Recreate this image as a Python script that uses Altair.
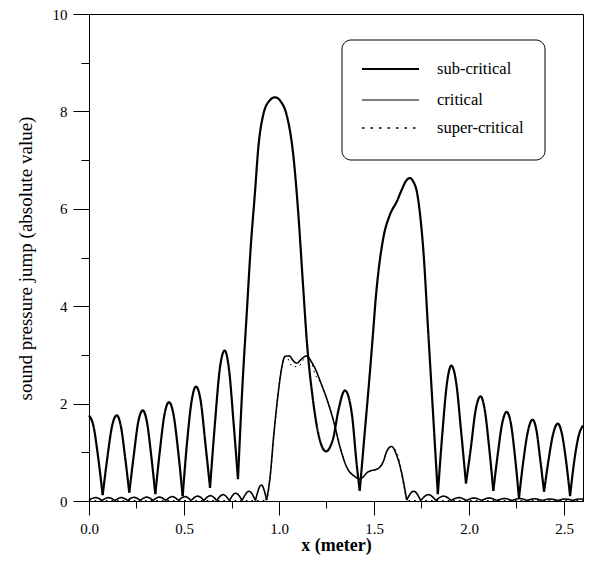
import altair as alt
import pandas as pd

SERIES = ["sub-critical", "critical", "super-critical"]

# sub-critical: arches between cusps (x in metre, |p| jump)
SUB_SEGMENTS = [
    [(0.000, 1.76), (0.024, 1.53), (0.048, 0.90), (0.072, 0.12)],
    [(0.072, 0.12), (0.097, 0.90), (0.121, 1.53), (0.146, 1.76), (0.168, 1.53), (0.190, 0.90), (0.212, 0.17)],
    [(0.212, 0.17), (0.236, 0.95), (0.259, 1.62), (0.283, 1.86), (0.305, 1.62), (0.327, 0.95), (0.349, 0.14)],
    [(0.349, 0.14), (0.373, 1.03), (0.397, 1.77), (0.421, 2.03), (0.445, 1.77), (0.469, 1.03), (0.493, 0.10)],
    [(0.493, 0.10), (0.516, 1.20), (0.540, 2.05), (0.563, 2.35), (0.588, 2.05), (0.612, 1.20), (0.637, 0.27)],
    [(0.637, 0.27), (0.663, 1.60), (0.688, 2.70), (0.714, 3.09), (0.737, 2.70), (0.761, 1.60), (0.784, 0.45)],
    [(0.784, 0.45), (0.809, 2.47), (0.830, 3.84), (0.851, 5.20), (0.874, 6.36), (0.891, 7.25), (0.917, 7.93),
     (0.950, 8.22), (0.979, 8.29), (1.010, 8.20), (1.040, 7.93), (1.075, 7.11), (1.102, 5.88), (1.125, 4.52),
     (1.149, 3.16), (1.177, 2.13), (1.207, 1.38), (1.247, 1.02), (1.286, 1.30), (1.312, 1.85), (1.347, 2.27),
     (1.383, 1.80), (1.409, 0.75), (1.425, 0.21)],
    [(1.425, 0.21), (1.450, 1.35), (1.470, 2.25), (1.496, 3.50), (1.510, 4.20), (1.523, 4.70), (1.549, 5.40),
     (1.584, 5.88), (1.620, 6.15), (1.646, 6.39), (1.668, 6.57), (1.689, 6.63), (1.708, 6.55), (1.725, 6.36),
     (1.742, 5.90), (1.760, 5.13), (1.786, 3.43), (1.812, 1.72), (1.836, 0.14)],
    [(1.836, 0.14), (1.860, 1.40), (1.884, 2.42), (1.907, 2.78), (1.933, 2.42), (1.958, 1.45), (1.984, 0.36)],
    [(1.984, 0.36), (2.010, 1.10), (2.035, 1.87), (2.061, 2.15), (2.083, 1.87), (2.106, 1.10), (2.128, 0.21)],
    [(2.128, 0.21), (2.151, 0.95), (2.175, 1.60), (2.198, 1.83), (2.220, 1.60), (2.241, 0.95), (2.263, 0.06)],
    [(2.263, 0.06), (2.287, 0.85), (2.311, 1.45), (2.335, 1.67), (2.355, 1.45), (2.375, 0.85), (2.395, 0.19)],
    [(2.395, 0.19), (2.419, 0.85), (2.443, 1.38), (2.467, 1.59), (2.489, 1.38), (2.510, 0.85), (2.532, 0.10)],
    [(2.532, 0.10), (2.555, 0.85), (2.578, 1.35), (2.600, 1.55)],
]

# critical: small arches before the step, main hump, small arches after
CRIT_SEGMENTS = [
    [(0.000, 0.02), (0.035, 0.07), (0.069, 0.01)],
    [(0.069, 0.01), (0.102, 0.07), (0.136, 0.01)],
    [(0.136, 0.01), (0.170, 0.07), (0.203, 0.01)],
    [(0.203, 0.01), (0.237, 0.075), (0.270, 0.01)],
    [(0.270, 0.01), (0.304, 0.08), (0.337, 0.01)],
    [(0.337, 0.01), (0.371, 0.08), (0.404, 0.01)],
    [(0.404, 0.01), (0.438, 0.09), (0.471, 0.01)],
    [(0.471, 0.01), (0.505, 0.09), (0.538, 0.01)],
    [(0.538, 0.01), (0.572, 0.10), (0.605, 0.01)],
    [(0.605, 0.01), (0.639, 0.11), (0.672, 0.01)],
    [(0.672, 0.01), (0.706, 0.13), (0.739, 0.01)],
    [(0.739, 0.01), (0.772, 0.16), (0.806, 0.01)],
    [(0.806, 0.01), (0.842, 0.20), (0.876, 0.01)],
    [(0.876, 0.01), (0.907, 0.33), (0.935, 0.02)],
    [(0.935, 0.02), (0.956, 0.60), (0.970, 1.25), (0.988, 1.95), (1.002, 2.41), (1.015, 2.75), (1.032, 2.97),
     (1.054, 2.98), (1.075, 2.88), (1.093, 2.83), (1.120, 2.92), (1.146, 2.98), (1.172, 2.85), (1.195, 2.68),
     (1.216, 2.47), (1.254, 2.07), (1.286, 1.66), (1.321, 1.11), (1.356, 0.70), (1.400, 0.50), (1.424, 0.45),
     (1.470, 0.60), (1.523, 0.67), (1.550, 0.82), (1.567, 1.02), (1.593, 1.12), (1.619, 0.94), (1.646, 0.57),
     (1.672, 0.02)],
    [(1.672, 0.02), (1.709, 0.20), (1.746, 0.01)],
    [(1.746, 0.01), (1.786, 0.13), (1.826, 0.01)],
    [(1.826, 0.01), (1.866, 0.10), (1.906, 0.01)],
    [(1.906, 0.01), (1.946, 0.07), (1.986, 0.01)],
    [(1.986, 0.01), (2.026, 0.06), (2.066, 0.01)],
    [(2.066, 0.01), (2.106, 0.06), (2.146, 0.01)],
    [(2.146, 0.01), (2.186, 0.05), (2.226, 0.01)],
    [(2.226, 0.01), (2.266, 0.05), (2.306, 0.01)],
    [(2.306, 0.01), (2.346, 0.045), (2.386, 0.01)],
    [(2.386, 0.01), (2.426, 0.04), (2.466, 0.01)],
    [(2.466, 0.01), (2.506, 0.04), (2.546, 0.01)],
    [(2.546, 0.01), (2.580, 0.04), (2.600, 0.04)],
]

# super-critical: flat, steep step, hump, flat
SUPER_SEGMENTS = [
    [(0.000, 0.01), (0.925, 0.01)],
    [(0.925, 0.01), (0.940, 0.10), (0.956, 0.57), (0.970, 1.20), (0.988, 1.93), (1.005, 2.54), (1.020, 2.85),
     (1.040, 2.98), (1.055, 2.85), (1.072, 2.76), (1.102, 2.76), (1.125, 2.88), (1.146, 2.97), (1.170, 2.85),
     (1.189, 2.61), (1.216, 2.45), (1.254, 2.07), (1.286, 1.66), (1.321, 1.11), (1.356, 0.70), (1.400, 0.50),
     (1.424, 0.45), (1.470, 0.60), (1.523, 0.67), (1.550, 0.82), (1.567, 1.02), (1.593, 1.12), (1.625, 0.95),
     (1.654, 0.36), (1.672, 0.05), (1.682, 0.01)],
    [(1.682, 0.01), (2.600, 0.01)],
]

X_TICKS = [0.0, 0.25, 0.5, 0.75, 1.0, 1.25, 1.5, 1.75, 2.0, 2.25, 2.5]
Y_TICKS = [0, 1, 2, 3, 4, 5, 6, 7, 8, 9, 10]

rows = []
for name, segs in zip(SERIES, [SUB_SEGMENTS, CRIT_SEGMENTS, SUPER_SEGMENTS]):
    for i, seg in enumerate(segs):
        for k, (xv, yv) in enumerate(seg):
            rows.append({"x": xv, "y": yv, "series": name, "seg": f"{name}-{i}", "order": k})
df = pd.DataFrame(rows)

FONT = "Liberation Serif"

x_enc = alt.X(
    "x:Q",
    scale=alt.Scale(domain=[0, 2.6], nice=False, zero=False),
    axis=alt.Axis(
        values=X_TICKS,
        labelExpr="datum.value % 0.5 === 0 ? format(datum.value, '.1f') : ''",
        tickSize={"condition": {"test": "datum.value % 0.5 === 0", "value": 14}, "value": 7},
        labelPadding=6,
        labelFontSize=15,
        labelFont=FONT,
        labelColor="black",
        labelOverlap=False,
        labelFlush=False,
        grid=False,
        domainColor="black",
        tickColor="black",
        title="x (meter)",
        titleFont=FONT,
        titleFontSize=18,
        titleFontWeight="bold",
        titleColor="black",
        titleBaseline="middle",
        titleY=44,
    ),
)
y_enc = alt.Y(
    "y:Q",
    scale=alt.Scale(domain=[0, 10], nice=False),
    axis=alt.Axis(
        values=Y_TICKS,
        labelExpr="datum.value % 2 === 0 ? datum.label : ''",
        tickSize={"condition": {"test": "datum.value % 2 === 0", "value": 16}, "value": 8},
        labelPadding=6,
        labelFontSize=15,
        labelFont=FONT,
        labelColor="black",
        labelOverlap=False,
        grid=False,
        domainColor="black",
        tickColor="black",
        title="sound pressure jump (absolute value)",
        titleFont=FONT,
        titleFontSize=19,
        titleFontWeight="normal",
        titleColor="black",
        titleAngle=270,
        titleAlign="center",
        titleBaseline="middle",
        titleX=-64,
        titleY=244,
    ),
)

lines = alt.Chart(df).mark_line(interpolate="monotone", color="black").encode(
    x=x_enc,
    y=y_enc,
    detail="seg:N",
    order="order:Q",
    strokeWidth=alt.StrokeWidth("series:N", scale=alt.Scale(domain=SERIES, range=[2.2, 1.0, 1.6]), legend=None),
    strokeDash=alt.StrokeDash("series:N", scale=alt.Scale(domain=SERIES, range=[[1, 0], [1, 0], [1.6, 4]]), legend=None),
)

# manual legend box (rounded corners)
legend_box = alt.Chart(pd.DataFrame({"a": [0]})).mark_rect(
    fill="white", stroke="black", strokeWidth=1, cornerRadius=9
).encode(x=alt.value(253), x2=alt.value(456), y=alt.value(26), y2=alt.value(146))

legend_layers = [legend_box]
row_y = [55, 86, 114]
widths = [2.2, 1.0, 1.6]
dashes = [[1, 0], [1, 0], [2.5, 6]]
for name, yy, w, d in zip(SERIES, row_y, widths, dashes):
    legend_layers.append(
        alt.Chart(pd.DataFrame({"a": [0]})).mark_rule(color="black", strokeWidth=w, strokeDash=d).encode(
            x=alt.value(273), x2=alt.value(330), y=alt.value(yy)
        )
    )
    legend_layers.append(
        alt.Chart(pd.DataFrame({"a": [0]})).mark_text(
            text=name, font=FONT, fontSize=16.5, align="left", baseline="middle", color="black"
        ).encode(x=alt.value(348), y=alt.value(yy))
    )

chart = alt.layer(lines, *legend_layers).properties(
    width=494,
    height=487,
    padding={"left": 81, "top": 6, "right": 10, "bottom": 54},
    autosize=alt.AutoSizeParams(type="none"),
    background="white",
).configure_view(stroke="black", strokeWidth=1)

chart.save("out.html", embed_options={"renderer": "svg", "actions": False})
